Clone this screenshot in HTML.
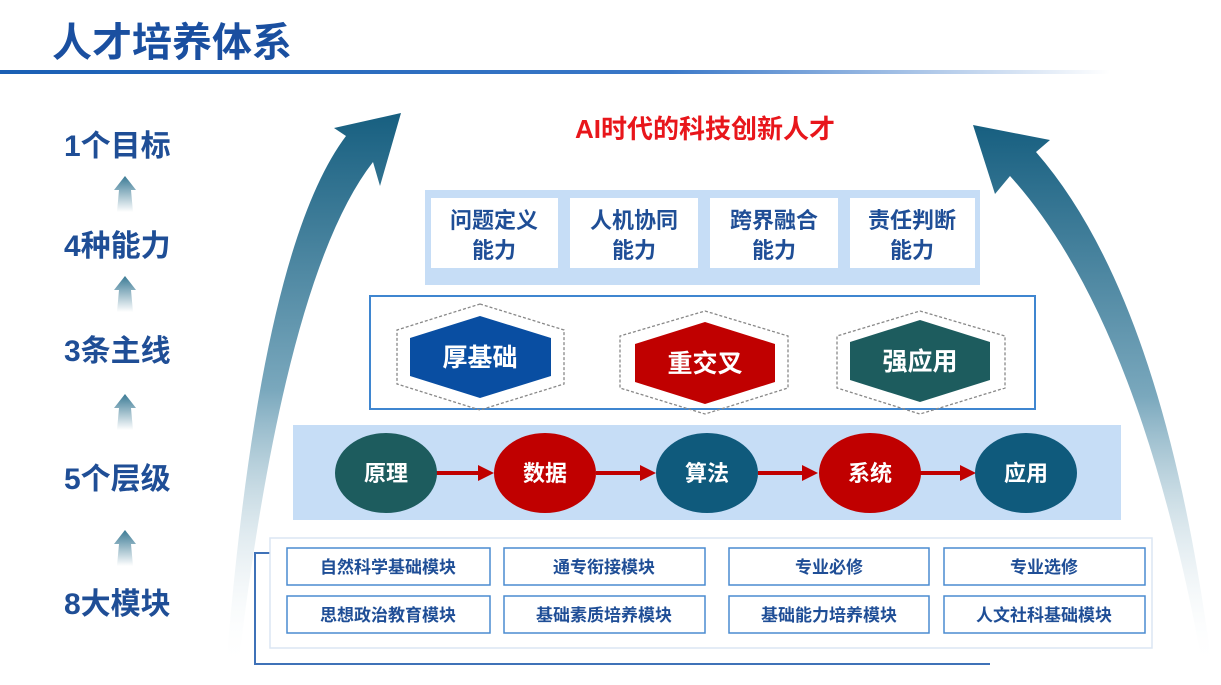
<!DOCTYPE html>
<html><head><meta charset="utf-8"><style>
body{margin:0;width:1221px;height:680px;overflow:hidden;background:#fff}
svg text{font-family:"Liberation Sans","Noto Sans CJK SC",sans-serif;font-weight:bold}
</style></head><body>
<svg width="1221" height="680" viewBox="0 0 1221 680" xmlns="http://www.w3.org/2000/svg">
<defs>
<linearGradient id="hl" x1="0" x2="1"><stop offset="0" stop-color="#1a5fb4"/><stop offset="0.6" stop-color="#3a78c8"/><stop offset="1" stop-color="#fff"/></linearGradient>
<linearGradient id="la" x1="0" y1="1" x2="0" y2="0"><stop offset="0" stop-color="#fff" stop-opacity="0"/><stop offset="0.5" stop-color="#7aa8bd"/><stop offset="1" stop-color="#175f80"/></linearGradient>
<linearGradient id="sa" x1="0" y1="1" x2="0" y2="0"><stop offset="0" stop-color="#fff"/><stop offset="1" stop-color="#3a7a95"/></linearGradient>
</defs>
<text x="52" y="56" font-size="40" fill="#1a4fa0">人才培养体系</text>
<rect x="0" y="70" width="1110" height="4" fill="url(#hl)"/>
<g font-size="30" fill="#1f4e96">
<text x="64" y="156">1个目标</text>
<text x="64" y="256">4种能力</text>
<text x="64" y="361">3条主线</text>
<text x="64" y="489">5个层级</text>
<text x="64" y="614">8大模块</text>
</g>
<g fill="url(#sa)">
<path d="M125 176 L136 190 L131 190 L133 212 L117 212 L119 190 L114 190Z"/>
<path d="M125 276 L136 290 L131 290 L133 312 L117 312 L119 290 L114 290Z"/>
<path d="M125 394 L136 408 L131 408 L133 430 L117 430 L119 408 L114 408Z"/>
<path d="M125 530 L136 544 L131 544 L133 566 L117 566 L119 544 L114 544Z"/>
</g>
<path d="M346 136 Q260 250 226 668 L238 668 Q285 275 373 162 L380 186 L401 113 L334 128Z" fill="url(#la)"/>
<path d="M1036 152 Q1165 300 1212 668 L1203 668 Q1140 320 1010 176 L995 194 L973 125 L1050 140Z" fill="url(#la)"/>
<text x="705" y="138" font-size="26" fill="#e8161b" text-anchor="middle">AI时代的科技创新人才</text>
<rect x="425" y="190" width="555" height="95" fill="#c6ddf6"/>
<g fill="#fff"><rect x="431" y="198" width="127" height="70"/><rect x="570" y="198" width="128" height="70"/><rect x="710" y="198" width="128" height="70"/><rect x="850" y="198" width="125" height="70"/></g>
<g font-size="22" fill="#1f4e96" text-anchor="middle">
<text x="494" y="228">问题定义</text><text x="494" y="258">能力</text>
<text x="634" y="228">人机协同</text><text x="634" y="258">能力</text>
<text x="774" y="228">跨界融合</text><text x="774" y="258">能力</text>
<text x="912" y="228">责任判断</text><text x="912" y="258">能力</text>
</g>
<rect x="370" y="296" width="665" height="113" fill="#fff" stroke="#3f86d0" stroke-width="2"/>
<g fill="none" stroke="#888" stroke-dasharray="3,2" stroke-width="1.3">
<path d="M480 304 L564 330 L564 384 L480 410 L397 384 L397 330Z"/>
<path d="M705 311 L788 336 L788 388 L705 414 L620 388 L620 336Z"/>
<path d="M920 311 L1005 336 L1005 388 L920 414 L837 388 L837 336Z"/>
</g>
<path d="M480 316 L551 338 L551 376 L480 398 L410 376 L410 338Z" fill="#094ea2"/>
<path d="M705 322 L775 344 L775 382 L705 404 L635 382 L635 344Z" fill="#c00000"/>
<path d="M920 320 L990 342 L990 380 L920 402 L850 380 L850 342Z" fill="#1d5c5e"/>
<g font-size="25" fill="#fff" text-anchor="middle">
<text x="480" y="366">厚基础</text><text x="705" y="372">重交叉</text><text x="920" y="370">强应用</text>
</g>
<rect x="293" y="425" width="828" height="95" fill="#c6ddf6"/>
<g stroke="#c00000" stroke-width="4" fill="#c00000">
<line x1="436" y1="473" x2="480" y2="473"/><path d="M478 465 L494 473 L478 481Z" stroke="none"/>
<line x1="596" y1="473" x2="642" y2="473"/><path d="M640 465 L656 473 L640 481Z" stroke="none"/>
<line x1="758" y1="473" x2="804" y2="473"/><path d="M802 465 L818 473 L802 481Z" stroke="none"/>
<line x1="920" y1="473" x2="962" y2="473"/><path d="M960 465 L976 473 L960 481Z" stroke="none"/>
</g>
<ellipse cx="386" cy="473" rx="51" ry="40" fill="#1d5c5e"/>
<ellipse cx="545" cy="473" rx="51" ry="40" fill="#c00000"/>
<ellipse cx="707" cy="473" rx="51" ry="40" fill="#0f5a7c"/>
<ellipse cx="870" cy="473" rx="51" ry="40" fill="#c00000"/>
<ellipse cx="1026" cy="473" rx="51" ry="40" fill="#0f5a7c"/>
<g font-size="22" fill="#fff" text-anchor="middle">
<text x="386" y="481">原理</text><text x="545" y="481">数据</text><text x="707" y="481">算法</text><text x="870" y="481">系统</text><text x="1026" y="481">应用</text>
</g>
<path d="M270 553 L255 553 L255 664 L990 664" fill="none" stroke="#3f72b8" stroke-width="2"/>
<rect x="270" y="538" width="882" height="110" fill="#fff" stroke="#dbe6f3" stroke-width="1.5"/>
<g fill="#fff" stroke="#4a8bd0" stroke-width="1.5">
<rect x="287" y="548" width="203" height="37"/><rect x="504" y="548" width="201" height="37"/><rect x="729" y="548" width="200" height="37"/><rect x="944" y="548" width="201" height="37"/>
<rect x="287" y="596" width="203" height="37"/><rect x="504" y="596" width="201" height="37"/><rect x="729" y="596" width="200" height="37"/><rect x="944" y="596" width="201" height="37"/>
</g>
<g font-size="17" fill="#1f4e96" text-anchor="middle">
<text x="388" y="573">自然科学基础模块</text><text x="604" y="573">通专衔接模块</text><text x="829" y="573">专业必修</text><text x="1044" y="573">专业选修</text>
<text x="388" y="621">思想政治教育模块</text><text x="604" y="621">基础素质培养模块</text><text x="829" y="621">基础能力培养模块</text><text x="1044" y="621">人文社科基础模块</text>
</g>
</svg>
</body></html>
